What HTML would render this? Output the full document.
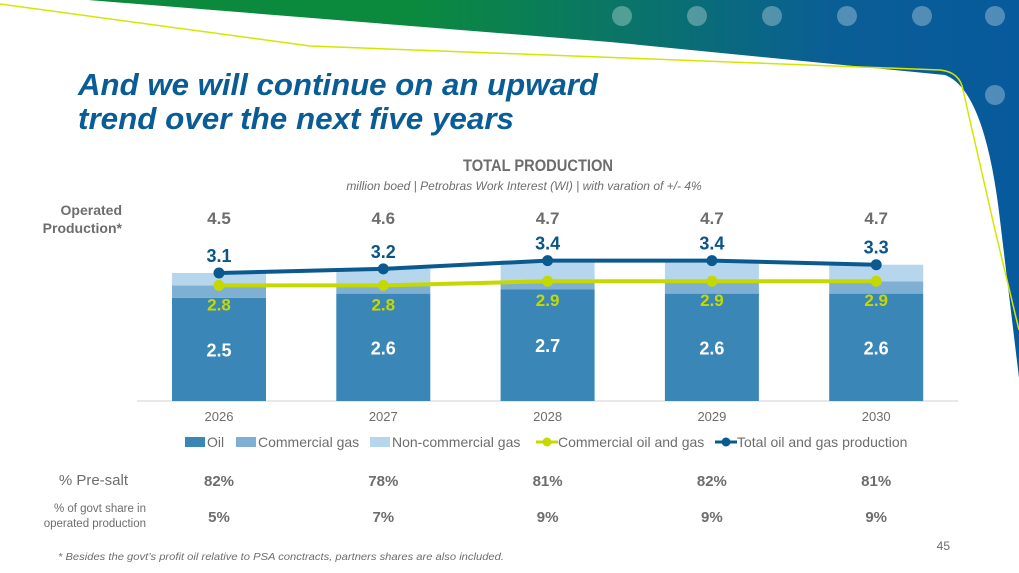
<!DOCTYPE html>
<html><head><meta charset="utf-8"><style>
html,body{margin:0;padding:0;background:#fff;}
body{width:1019px;height:573px;overflow:hidden;position:relative;font-family:"Liberation Sans",sans-serif;}
svg{position:absolute;left:0;top:0;}
</style></head><body>
<svg id="s" width="1019" height="573" viewBox="0 0 1019 573">
<defs>
<linearGradient id="g" x1="0" y1="0" x2="1" y2="0">
<stop offset="0.35" stop-color="#0b8a3e"/><stop offset="0.62" stop-color="#0a7070"/><stop offset="0.8" stop-color="#0a5e96"/><stop offset="1" stop-color="#075a9c"/>
</linearGradient>
</defs>
<path d="M88,0 L1019,0 L1019,378 L1000,220 Q985,90 945,75 L610,42 Z" fill="url(#g)"/>
<path d="M0,4 L310,46 L940,70 Q960,72 963,90 L995,230 L1019,330" fill="none" stroke="#d4e600" stroke-width="1.5"/>
<g fill="#ffffff" fill-opacity="0.3">
<circle cx="622" cy="16" r="10"/><circle cx="697" cy="16" r="10"/><circle cx="772" cy="16" r="10"/><circle cx="847" cy="16" r="10"/><circle cx="922" cy="16" r="10"/><circle cx="995" cy="16" r="10"/><circle cx="995" cy="95" r="10"/>
</g>
<text x="78" y="95" font-size="31" font-weight="bold" font-style="italic" fill="#0a5c96" textLength="520" lengthAdjust="spacingAndGlyphs">And we will continue on an upward</text>
<text x="78" y="129" font-size="31" font-weight="bold" font-style="italic" fill="#0a5c96" textLength="436" lengthAdjust="spacingAndGlyphs">trend over the next five years</text>
<text x="538" y="171" font-size="17" font-weight="bold" fill="#6d6d6d" text-anchor="middle" textLength="150" lengthAdjust="spacingAndGlyphs">TOTAL PRODUCTION</text>
<text x="524" y="190" font-size="12" font-style="italic" fill="#6d6d6d" text-anchor="middle">million boed | Petrobras Work Interest (WI) | with varation of +/- 4%</text>
<text x="122" y="215" font-size="14" font-weight="bold" fill="#6d6d6d" text-anchor="end">Operated</text>
<text x="122" y="233" font-size="14" font-weight="bold" fill="#6d6d6d" text-anchor="end">Production*</text>
<line x1="137" y1="401" x2="958" y2="401" stroke="#d0d0d0" stroke-width="1"/>
<g id="plot"></g>
<text x="128" y="485" font-size="15" fill="#6d6d6d" text-anchor="end">% Pre-salt</text>
<text x="146" y="512" font-size="11.5" fill="#6d6d6d" text-anchor="end">% of govt share in</text>
<text x="146" y="527" font-size="11.5" fill="#6d6d6d" text-anchor="end">operated production</text>
<text x="58" y="560" font-size="10.5" font-style="italic" fill="#6d6d6d" textLength="446" lengthAdjust="spacingAndGlyphs">* Besides the govt’s profit oil relative to PSA conctracts, partners shares are also included.</text>
<text x="950" y="550" font-size="12" fill="#6d6d6d" text-anchor="end">45</text>
</svg>
<script>
const years=["2026","2027","2028","2029","2030"];
const oil=[2.5,2.6,2.7,2.6,2.6];
const commercialGas=[0.3,0.2,0.2,0.3,0.3];
const nonCommercialGas=[0.3,0.4,0.5,0.5,0.4];
const commercialTotal=[2.8,2.8,2.9,2.9,2.9];
const totalProd=[3.1,3.2,3.4,3.4,3.3];
const operated=["4.5","4.6","4.7","4.7","4.7"];
const preSalt=["82%","78%","81%","82%","81%"];
const govtShare=["5%","7%","9%","9%","9%"];
const NS="http://www.w3.org/2000/svg";
const g=document.getElementById('plot');
const base=401,k=41.3;
const y=v=>base-v*k;
const x=i=>219+i*164.3;
const bw=94;
function el(t,a,txt){const e=document.createElementNS(NS,t);for(const n in a)e.setAttribute(n,a[n]);if(txt!=null)e.textContent=txt;g.appendChild(e);return e;}
years.forEach((yr,i)=>{
 const cx=x(i);
 let r=el('rect',{x:cx-bw/2,y:y(oil[i]),width:bw,height:oil[i]*k,fill:'#3a87b7'});
 
 
 const c1=oil[i]+commercialGas[i];
 r=el('rect',{x:cx-bw/2,y:y(c1),width:bw,height:commercialGas[i]*k,fill:'#7fb0d3'});
 
 
 const c2=c1+nonCommercialGas[i];
 r=el('rect',{x:cx-bw/2,y:y(c2),width:bw,height:nonCommercialGas[i]*k,fill:'#b6d6ee'});
 
 
 let t=el('text',{x:cx,y:(y(oil[i])+base)/2+7,'font-size':18,'font-weight':'bold',fill:'#fff','text-anchor':'middle'},oil[i].toFixed(1));
 
 
 t=el('text',{x:cx,y:y(commercialTotal[i])+25,'font-size':17,'font-weight':'bold',fill:'#c5d900','text-anchor':'middle'},commercialTotal[i].toFixed(1));
 
 
 t=el('text',{x:cx,y:y(totalProd[i])-11,'font-size':18,'font-weight':'bold',fill:'#0a5588','text-anchor':'middle'},totalProd[i].toFixed(1));
 
 
 t=el('text',{x:cx,y:224,'font-size':17,'font-weight':'bold',fill:'#6d6d6d','text-anchor':'middle'},operated[i]);
 
 
 t=el('text',{x:cx,y:421,'font-size':13,fill:'#6d6d6d','text-anchor':'middle'},yr);
 
 
 t=el('text',{x:cx,y:486,'font-size':15,'font-weight':'bold',fill:'#6d6d6d','text-anchor':'middle'},preSalt[i]);
 
 
 t=el('text',{x:cx,y:522,'font-size':15,'font-weight':'bold',fill:'#6d6d6d','text-anchor':'middle'},govtShare[i]);
 
 
});
let p=el('polyline',{points:commercialTotal.map((v,i)=>x(i)+','+y(v)).join(' '),fill:'none',stroke:'#c5d900','stroke-width':4});


commercialTotal.forEach((v,i)=>{const c=el('circle',{cx:x(i),cy:y(v),r:5.5,fill:'#c5d900'});
 
 });
p=el('polyline',{points:totalProd.map((v,i)=>x(i)+','+y(v)).join(' '),fill:'none',stroke:'#0a5a8f','stroke-width':4});


totalProd.forEach((v,i)=>{const c=el('circle',{cx:x(i),cy:y(v),r:5.5,fill:'#0a5a8f'});
 
 });
const leg=[["Oil",'#3a87b7',185,'rect'],["Commercial gas",'#7fb0d3',236,'rect'],["Non-commercial gas",'#b6d6ee',370,'rect'],["Commercial oil and gas",'#c5d900',536,'line'],["Total oil and gas production",'#0a5a8f',715,'line']];
leg.forEach(l=>{
 if(l[3]==='rect'){const r=el('rect',{x:l[2],y:437,width:20,height:10,fill:l[1]});
  
  }
 else{const a=el('line',{x1:l[2],y1:442,x2:l[2]+22,y2:442,stroke:l[1],'stroke-width':3});
  
  
  const c=el('circle',{cx:l[2]+11,cy:442,r:4.5,fill:l[1]});
  
  }
 const t=el('text',{x:l[2]+22,y:447,'font-size':14,fill:'#6d6d6d'},l[0]);
 
 
});
</script>
</body></html>
